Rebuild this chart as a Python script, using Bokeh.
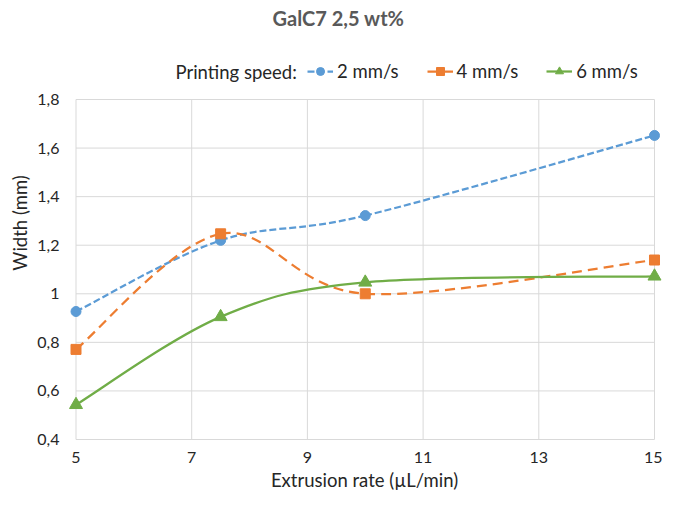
from bokeh.plotting import figure
from bokeh.models import (Range1d, FixedTicker, CustomJSTickFormatter, Legend,
                          LegendItem, Label, ColumnDataSource)
from bokeh.embed import file_html
from bokeh.resources import INLINE

# ---------------- data ----------------
title_text = "GalC7 2,5 wt%"
legend_title = "Printing speed:"
x_label = "Extrusion rate (µL/min)"
y_label = "Width (mm)"
series_names = ["2 mm/s", "4 mm/s", "6 mm/s"]
extrusion_rate = [5, 7.5, 10, 15]
width_2 = [0.927, 1.220, 1.322, 1.652]
width_4 = [0.771, 1.247, 1.000, 1.139]
width_6 = [0.543, 0.905, 1.047, 1.072]
x_ticks = [5, 7, 9, 11, 13, 15]
y_ticks = [0.4, 0.6, 0.8, 1.0, 1.2, 1.4, 1.6, 1.8]

# ---------------- styles ----------------
FONT = "Lato"
TXT = "#262626"
GRID = "#d9d9d9"
colors = ["#5B9BD5", "#ED7D31", "#70AD47"]
dashes = ["7 3", "10 6", "solid"]
markers = ["circle", "square", "triangle"]
msizes = [10, 10, 13]


def smooth_segments(xs, ys):
    """Excel-like smoothed line: cubic Bezier control points from neighbours."""
    pts = list(zip(xs, ys))
    n = len(pts)
    d = dict(x0=[], y0=[], x1=[], y1=[], cx0=[], cy0=[], cx1=[], cy1=[])
    for i in range(n - 1):
        p0 = pts[i - 1] if i > 0 else pts[i]
        p1 = pts[i]
        p2 = pts[i + 1]
        p3 = pts[i + 2] if i + 2 < n else pts[i + 1]
        d["x0"].append(p1[0]); d["y0"].append(p1[1])
        d["x1"].append(p2[0]); d["y1"].append(p2[1])
        d["cx0"].append(p1[0] + (p2[0] - p0[0]) / 6.0)
        d["cy0"].append(p1[1] + (p2[1] - p0[1]) / 6.0)
        d["cx1"].append(p2[0] - (p3[0] - p1[0]) / 6.0)
        d["cy1"].append(p2[1] - (p3[1] - p1[1]) / 6.0)
    return d


# the frame reaches the top of the figure so that title and legend sit inside it;
# the visible plot box is drawn from the tick lists
p = figure(width=662, height=493,
           x_range=Range1d(4.83578, 15.13829), y_range=Range1d(0.375294, 2.207647),
           min_border_left=66, min_border_right=0, min_border_top=0,
           min_border_bottom=48, output_backend="svg", toolbar_location=None)
p.outline_line_color = None
p.xgrid.visible = False
p.ygrid.visible = False

gx0 = list(x_ticks) + [x_ticks[0]] * len(y_ticks)
gx1 = list(x_ticks) + [x_ticks[-1]] * len(y_ticks)
gy0 = [y_ticks[0]] * len(x_ticks) + list(y_ticks)
gy1 = [y_ticks[-1]] * len(x_ticks) + list(y_ticks)
p.segment(x0=gx0, y0=gy0, x1=gx1, y1=gy1, line_color=GRID, line_width=1)

items = []
for name, ys, c, dsh, mk, ms in zip(series_names, [width_2, width_4, width_6],
                                    colors, dashes, markers, msizes):
    src = ColumnDataSource(smooth_segments(extrusion_rate, ys))
    b = p.bezier(x0="x0", y0="y0", x1="x1", y1="y1", cx0="cx0", cy0="cy0",
                 cx1="cx1", cy1="cy1", source=src, line_color=c,
                 line_width=2.25, line_dash=dsh)
    s = p.scatter(x=extrusion_rate, y=ys, marker=mk, size=ms,
                  fill_color=c, line_color=c)
    items.append(LegendItem(label=name, renderers=[b, s]))

fmt = CustomJSTickFormatter(code="""
const v = Math.round(tick*10)/10;
return v.toString().replace('.', ',');
""")
for ax, ticks, lab in [(p.xaxis[0], x_ticks, x_label), (p.yaxis[0], y_ticks, y_label)]:
    ax.ticker = FixedTicker(ticks=ticks)
    ax.formatter = fmt
    ax.axis_label = lab
    ax.axis_line_color = None
    ax.major_tick_line_color = None
    ax.minor_tick_line_color = None
    ax.major_tick_out = 0
    ax.major_tick_in = 0
    ax.major_label_text_font = FONT
    ax.major_label_text_font_size = "16px"
    ax.major_label_text_color = TXT
    ax.axis_label_text_font = FONT
    ax.axis_label_text_font_size = "18.5px"
    ax.axis_label_text_font_style = "normal"
    ax.axis_label_text_color = TXT
p.yaxis.major_label_standoff = 7
p.yaxis.axis_label_standoff = 3
p.xaxis.major_label_standoff = 6
p.xaxis.axis_label_standoff = 3

legend = Legend(items=items, orientation="horizontal", location=(241, 363),
                margin=0, padding=0, spacing=28, glyph_width=26, glyph_height=20,
                label_standoff=4, label_text_font=FONT, label_text_font_size="18.5px",
                label_text_color=TXT, border_line_color=None,
                background_fill_alpha=0)
p.add_layout(legend)

p.add_layout(Label(x=109, y=374, x_units="screen", y_units="screen",
                   text=legend_title, text_align="left", text_baseline="middle",
                   text_font=FONT, text_font_size="18.5px", text_color=TXT))
p.add_layout(Label(x=272, y=428, x_units="screen", y_units="screen",
                   text=title_text, text_align="center", text_baseline="middle",
                   text_font=FONT, text_font_style="bold", text_font_size="20px",
                   text_color="#595959"))

open("out.html", "w").write(file_html(p, INLINE))
